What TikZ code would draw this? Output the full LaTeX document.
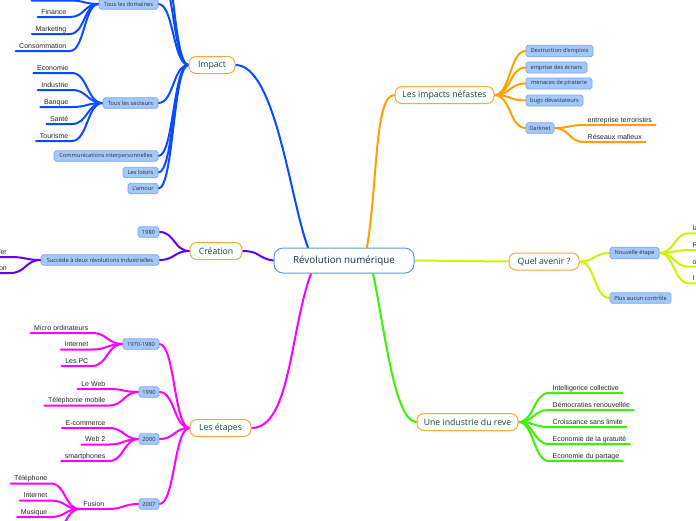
\documentclass[tikz,border=0pt]{standalone}
\usepackage{fontspec}
\setmainfont{Liberation Sans}
\newfontfamily\opensans{Open Sans}
\usetikzlibrary{backgrounds}
\definecolor{cblue}{HTML}{0A4BFF}
\definecolor{corange}{HTML}{FF9F00}
\definecolor{cpurple}{HTML}{6200FF}
\definecolor{cmag}{HTML}{FF00FF}
\definecolor{cyell}{HTML}{CCF500}
\definecolor{cgreen}{HTML}{3DF200}
\definecolor{topicborder}{HTML}{F9A93B}
\definecolor{topictext}{HTML}{16463A}
\definecolor{centborder}{HTML}{5B9BD5}
\definecolor{centtext}{HTML}{1B2D4F}
\definecolor{subfill}{HTML}{A5C8FA}
\definecolor{subborder}{HTML}{79A7EF}
\definecolor{subtext}{HTML}{26303D}
\definecolor{leaftext}{HTML}{262626}
\tikzset{
 central/.style={draw=centborder, line width=1pt, fill=white, rounded corners=9pt, minimum width=140pt, minimum height=25pt, inner sep=0pt, font=\opensans\fontsize{9.8}{11}\selectfont, text=centtext},
 topic/.style={draw=topicborder, line width=1pt, fill=white, rounded corners=7pt, minimum height=17pt, inner sep=0pt, font=\opensans\fontsize{8.7}{10}\selectfont, text=topictext},
 sub/.style={draw=subborder, line width=0.7pt, fill=subfill, rounded corners=1.8pt, minimum height=10.5pt, inner sep=0pt, font=\opensans\fontsize{5.7}{6}\selectfont, text=subtext},
 leaf/.style={inner xsep=3.5pt, inner ysep=1.5pt, text height=5.2pt, text depth=1pt, font=\fontsize{7}{8}\selectfont, text=leaftext},
 conn/.style={line width=2pt, line cap=round},
}
\begin{document}
\begin{tikzpicture}[x=1pt,y=-1pt]
\useasboundingbox (0,0) rectangle (696,520);

% central and topics
\node[central] (central) at (344,260.5) {Révolution numérique};
\node[topic, minimum width=46pt] (impact) at (212,65) {Impact};
\node[topic, minimum width=52pt] (creation) at (216,251) {Création};
\node[topic, minimum width=61pt] (etapes) at (220.5,428) {Les étapes};
\node[topic, minimum width=99pt] (nefastes) at (444.5,95) {Les impacts néfastes};
\node[topic, minimum width=70pt] (quel) at (544,261.5) {Quel avenir ?};
\node[topic, minimum width=101pt] (industrie) at (467.5,422) {Une industrie du reve};

% Impact subtopics
\coordinate (hid1) at (158,-30);
\coordinate (hid2) at (158,-60);
\node[sub, minimum width=59pt] (doms) at (128.5,4) {Tous les domaines};
\node[sub, minimum width=55pt] (sect) at (130.5,103) {Tous les secteurs};
\node[sub, minimum width=104pt] (comm) at (106,156) {Communications interpersonnelles};
\node[sub, minimum width=35pt] (loisirs) at (140.5,172.5) {Les loisirs};
\node[sub, minimum width=30pt] (amour) at (143,188.5) {L'amour};

% Tous les domaines leaves
\node[leaf, anchor=south east, minimum width=38pt] (d0) at (70,0.5) {};
\node[leaf, anchor=south east] (d1) at (70,17) {Finance};
\node[leaf, anchor=south east] (d2) at (70,34) {Marketing};
\node[leaf, anchor=south east] (d3) at (70,51) {Consommation};

% Tous les secteurs leaves
\node[leaf, anchor=south east] (s1) at (72,73) {Economie};
\node[leaf, anchor=south east] (s2) at (72,90) {Industrie};
\node[leaf, anchor=south east] (s3) at (72,107) {Banque};
\node[leaf, anchor=south east] (s4) at (72,124) {Santé};
\node[leaf, anchor=south east] (s5) at (72,141) {Tourisme};

% Creation subtopics
\node[sub, minimum width=21pt] (y1980) at (148.5,232) {1980};
\node[sub, minimum width=118pt] (succ) at (100,260) {Succède à deux révolutions industrielles};
\node[leaf, anchor=south east] (r1) at (10.5,257) {fer};
\node[leaf, anchor=south east] (r2) at (10.5,273) {on};

% Etapes subtopics
\node[sub, minimum width=36pt] (y7080) at (141,344) {1970-1980};
\node[sub, minimum width=20pt] (y1990) at (149,392) {1990};
\node[sub, minimum width=20pt] (y2000) at (149,439) {2000};
\node[sub, minimum width=20pt] (y2007) at (149,504) {2007};

\node[leaf, anchor=south east] (e1) at (92,333) {Micro ordinateurs};
\node[leaf, anchor=south east] (e2) at (92,349.5) {Internet};
\node[leaf, anchor=south east] (e3) at (92,366) {Les PC};
\node[leaf, anchor=south east] (e4) at (109,389) {Le Web};
\node[leaf, anchor=south east] (e5) at (109,405.5) {Téléphonie mobile};
\node[leaf, anchor=south east] (e6) at (109,428) {E-commerce};
\node[leaf, anchor=south east] (e7) at (109,444.5) {Web 2};
\node[leaf, anchor=south east] (e8) at (109,461) {smartphones};
\node[leaf, anchor=south east] (fusion) at (108,509) {Fusion};
\node[leaf, anchor=south east] (f1) at (51,483.5) {Téléphone};
\node[leaf, anchor=south east] (f2) at (51,500.5) {Internet};
\node[leaf, anchor=south east] (f3) at (51,517) {Musique};
\node[leaf, anchor=south east, minimum width=30pt] (f4) at (51,534) {};

% Nefastes subtopics
\node[sub, minimum width=67pt, minimum height=11.5pt] (n1) at (559.5,51) {Destruction d'emplois};
\node[sub, minimum width=61pt, minimum height=11pt] (n2) at (556.5,67.5) {emprise des écrans};
\node[sub, minimum width=66pt, minimum height=11pt] (n3) at (559,83.5) {menaces de piraterie};
\node[sub, minimum width=57pt, minimum height=11pt] (n4) at (554.5,100.5) {bugs dévastateurs};
\node[sub, minimum width=28pt, minimum height=10.5pt] (n5) at (540,128) {Darknet};
\node[leaf, anchor=south west] (k1) at (584,125) {entreprise terroristes};
\node[leaf, anchor=south west] (k2) at (584,142) {Réseaux mafieux};

% Quel avenir subtopics
\node[sub, minimum width=49pt, minimum height=11.5pt] (nouv) at (634.5,253) {Nouvelle étape};
\node[sub, minimum width=61pt, minimum height=10.5pt] (plus) at (640.5,298) {Plus aucun contrôle};
\node[leaf, anchor=south west] (q1) at (689,233.3) {la};
\node[leaf, anchor=south west] (q2) at (689,250) {R};
\node[leaf, anchor=south west] (q3) at (689,266.7) {o};
\node[leaf, anchor=south west] (q4) at (689,283.3) {I};

% Industrie leaves
\node[leaf, anchor=south west] (g1) at (549,393) {Intelligence collective};
\node[leaf, anchor=south west] (g2) at (549,410) {Démocraties renouvellée};
\node[leaf, anchor=south west] (g3) at (549,427) {Croissance sans limite};
\node[leaf, anchor=south west] (g4) at (549,444) {Economie de la gratuité};
\node[leaf, anchor=south west] (g5) at (549,461) {Economie du partage};

\begin{scope}[on background layer]
\fill[white] (0,0) rectangle (696,520);
% main connectors
\draw[conn,cblue] (impact.east) .. controls +(40,0) and +(-18,-48) .. ([xshift=-36pt]central.north);
\draw[conn,corange] (nefastes.west) .. controls +(-20,0) and +(11,-68) .. ([xshift=23pt]central.north);
\draw[conn,cpurple] (creation.east) .. controls +(18,0) and +(-16,-2) .. (central.west);
\draw[conn,cmag] (etapes.east) .. controls +(39,0) and +(-21,57) .. ([xshift=-33pt]central.south);
\draw[conn,cgreen] (industrie.west) .. controls +(-22,0) and +(12,57) .. ([xshift=29pt]central.south);
\draw[conn,cyell] (central.east) -- (quel.west);

% impact
\foreach \n in {hid1,hid2} \draw[conn,cblue] (\n) .. controls +(15.5,0) and +(-15.5,0) .. (impact.west);
\foreach \n in {doms,sect,comm,loisirs,amour} \draw[conn,cblue] (\n.east) .. controls +(15.5,0) and +(-15.5,0) .. (impact.west);
\foreach \n in {d0,d1,d2,d3} \draw[conn,cblue] (\n.south west) -- (\n.south east) .. controls +(14.5,0) and +(-14.5,0) .. (doms.west);
\foreach \n in {s1,s2,s3,s4,s5} \draw[conn,cblue] (\n.south west) -- (\n.south east) .. controls +(15.5,0) and +(-15.5,0) .. (sect.west);

% creation
\foreach \n in {y1980,succ} \draw[conn,cpurple] (\n.east) .. controls +(15.5,0) and +(-15.5,0) .. (creation.west);
\foreach \n in {r1,r2} \draw[conn,cpurple] (\n.south west) -- (\n.south east) .. controls +(15,0) and +(-15,0) .. (succ.west);

% etapes
\foreach \n in {y7080,y1990,y2000,y2007} \draw[conn,cmag] (\n.east) .. controls +(15.5,0) and +(-15.5,0) .. (etapes.west);
\foreach \n in {e1,e2,e3} \draw[conn,cmag] (\n.south west) -- (\n.south east) .. controls +(15.5,0) and +(-15.5,0) .. (y7080.west);
\foreach \n in {e4,e5} \draw[conn,cmag] (\n.south west) -- (\n.south east) .. controls +(15,0) and +(-15,0) .. (y1990.west);
\foreach \n in {e6,e7,e8} \draw[conn,cmag] (\n.south west) -- (\n.south east) .. controls +(15,0) and +(-15,0) .. (y2000.west);
\draw[conn,cmag] (fusion.south west) -- (fusion.south east) .. controls +(15.5,0) and +(-15.5,0) .. (y2007.west);
\foreach \n in {f1,f2,f3,f4} \draw[conn,cmag] (\n.south west) -- (\n.south east) .. controls +(14.5,0) and +(-14.5,0) .. (fusion.south west);

% nefastes
\foreach \n in {n1,n2,n3,n4,n5} \draw[conn,corange] (nefastes.east) .. controls +(16,0) and +(-16,0) .. (\n.west);
\foreach \n in {k1,k2} \draw[conn,corange] (n5.east) .. controls +(15,0) and +(-15,0) .. (\n.south west) -- (\n.south east);

% quel avenir
\foreach \n in {nouv,plus} \draw[conn,cyell] (quel.east) .. controls +(15.5,0) and +(-15.5,0) .. (\n.west);
\foreach \n in {q1,q2,q3,q4} \draw[conn,cyell] (nouv.east) .. controls +(15,0) and +(-15,0) .. (\n.south west) -- (\n.south east);

% industrie
\foreach \n in {g1,g2,g3,g4,g5} \draw[conn,cgreen] (industrie.east) .. controls +(15.5,0) and +(-15.5,0) .. (\n.south west) -- (\n.south east);
\end{scope}
\end{tikzpicture}
\end{document}
